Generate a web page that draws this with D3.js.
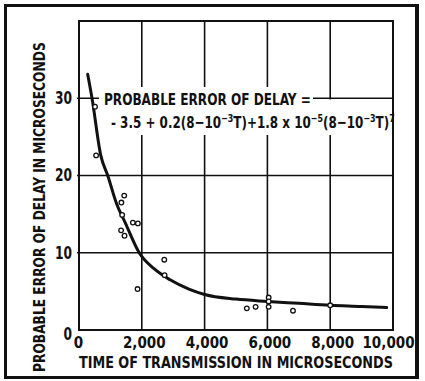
<!DOCTYPE html>
<html><head><meta charset="utf-8">
<script src="https://cdn.jsdelivr.net/npm/d3@7"></script>
<style>
html,body{margin:0;padding:0;background:#fff;}
svg{display:block;}
text{font-family:"DejaVu Sans Condensed","DejaVu Sans",sans-serif;font-weight:bold;fill:#111;}
</style></head>
<body><svg id="c" width="425" height="381" xmlns="http://www.w3.org/2000/svg"></svg>
<script>
// Measured points (T in microseconds, probable error in microseconds)
const pointT   = [510, 545, 1440, 1350, 1375, 1715, 1875, 1340, 1450, 2716, 2726, 1865, 5345, 5625, 6040, 6040, 6040, 6815, 8000];
const pointPE  = [28.9, 22.6, 17.4, 16.5, 14.9, 13.9, 13.8, 12.9, 12.2, 9.1, 7.1, 5.3, 2.8, 3.0, 4.2, 3.7, 3.0, 2.5, 3.2];
// Fitted curve
const curveT   = [277, 415, 693, 915, 1200, 1470, 1917, 2400, 2900, 3500, 4000, 5000, 6000, 7000, 8000, 9000, 9800];
const curvePE  = [33.1, 30, 22.6, 20, 16.3, 13.9, 10, 7.9, 6.5, 5.3, 4.6, 4.0, 3.7, 3.45, 3.2, 3.05, 2.9];
const xTicks   = [0, 2000, 4000, 6000, 8000, 10000];
const yTicks   = [0, 10, 20, 30];
const xGrid    = [2000, 4000, 6000, 8000];
const yGrid    = [10, 20, 30];
const xTitle   = "TIME OF TRANSMISSION IN MICROSECONDS";
const yTitle   = "PROBABLE ERROR OF DELAY IN MICROSECONDS";
const formula1 = "PROBABLE ERROR OF DELAY =";

const svg = d3.select("#c");
const xs = d3.scaleLinear().domain([0, 10000]).range([79, 393]);
const ys = d3.scaleLinear().domain([0, 40]).range([330, 21]);

// squeeze a text horizontally to a target width (condensed lettering)
function fit(sel, x, y, target, rot) {
  const w = sel.node().getComputedTextLength();
  const k = Math.min(1, target / w);
  sel.attr("transform", `translate(${x},${y})${rot ? " rotate(-90)" : ""} scale(${k},1)`);
  return sel;
}

// outer frame
svg.append("path").attr("d", "M5.5,5.5H416.5V377.5H5.5Z")
  .attr("fill", "none").attr("stroke", "#111").attr("stroke-width", 3);
svg.append("path").attr("d", "M417.5,4V379")
  .attr("fill", "none").attr("stroke", "#111").attr("stroke-width", 3);

// grid
let gp = "";
xGrid.forEach(d => { gp += `M${xs(d)},${ys(40)}V${ys(0)}`; });
yGrid.forEach(d => { gp += `M${xs(0) - 2},${ys(d)}H${xs(10000)}`; });
svg.append("path").attr("d", gp).attr("fill", "none").attr("stroke", "#111").attr("stroke-width", 1.6);

// plot frame
svg.append("path")
  .attr("d", `M${xs(0)},${ys(40)}H${xs(10000)}V${ys(0)}H${xs(0)}Z`)
  .attr("fill", "none").attr("stroke", "#111").attr("stroke-width", 2);

// white box behind formula
svg.append("rect").attr("x", 99).attr("y", 87).attr("width", 214).attr("height", 48).attr("fill", "#fff");
svg.append("rect").attr("x", 99).attr("y", 99.5).attr("width", 293).attr("height", 35.5).attr("fill", "#fff");

// formula text
fit(svg.append("text").attr("font-size", 16.5).text(formula1), 104, 105, 207);
const f2 = svg.append("text").attr("font-size", 16.5);
const parts = [
  ["- 3.5 + 0.2(8\u221210", 0], ["\u22123", 1], ["T)+1.8 x 10", 0], ["\u22125", 1],
  ["(8\u221210", 0], ["\u22123", 1], ["T)", 0], ["7", 1]
];
let lvl = 0;
parts.forEach(([t, s]) => {
  const ts = f2.append("tspan").text(t);
  if (s) { ts.attr("font-size", 11); if (!lvl) { ts.attr("dy", -6); lvl = 1; } }
  else if (lvl) { ts.attr("dy", 6); lvl = 0; }
});
fit(f2, 111, 128, 284);

// curve
const line = d3.line().x(d => xs(d[0])).y(d => ys(d[1])).curve(d3.curveMonotoneX);
svg.append("path").datum(curveT.map((t, i) => [t, curvePE[i]]))
  .attr("d", line).attr("fill", "none").attr("stroke", "#111").attr("stroke-width", 3)
  .attr("stroke-linecap", "round");

// points
svg.selectAll("circle.pt").data(pointT.map((t, i) => [t, pointPE[i]])).join("circle")
  .attr("class", "pt")
  .attr("cx", d => xs(d[0])).attr("cy", d => ys(d[1])).attr("r", 2.3)
  .attr("fill", "#fff").attr("stroke", "#111").attr("stroke-width", 1.3);

// axes
const xa = svg.append("g").attr("transform", `translate(0,${ys(0)})`)
  .call(d3.axisBottom(xs).tickValues(xTicks).tickSize(0).tickPadding(7).tickFormat(d3.format(",")));
xa.select(".domain").remove();
xa.selectAll("text").attr("font-size", 15).attr("font-family", null).attr("fill", "#111")
  .attr("dx", d => d === 10000 ? -5 : (d === 0 ? -1 : 2));
const ya = svg.append("g").attr("transform", `translate(${xs(0)},0)`)
  .call(d3.axisLeft(ys).tickValues(yTicks).tickSize(0).tickPadding(7));
ya.select(".domain").remove();
ya.selectAll("text").attr("font-size", 17).attr("font-family", null).attr("fill", "#111")
  .attr("x", -7 / 0.8).attr("transform", "scale(0.8,1)")
  .attr("dy", d => d === 0 ? "0.55em" : "0.32em");

// titles
fit(svg.append("text").attr("font-size", 16).text(xTitle), 79, 368, 314);
fit(svg.append("text").attr("font-size", 16).text(yTitle), 45, 372, 330, true);
</script></body></html>
